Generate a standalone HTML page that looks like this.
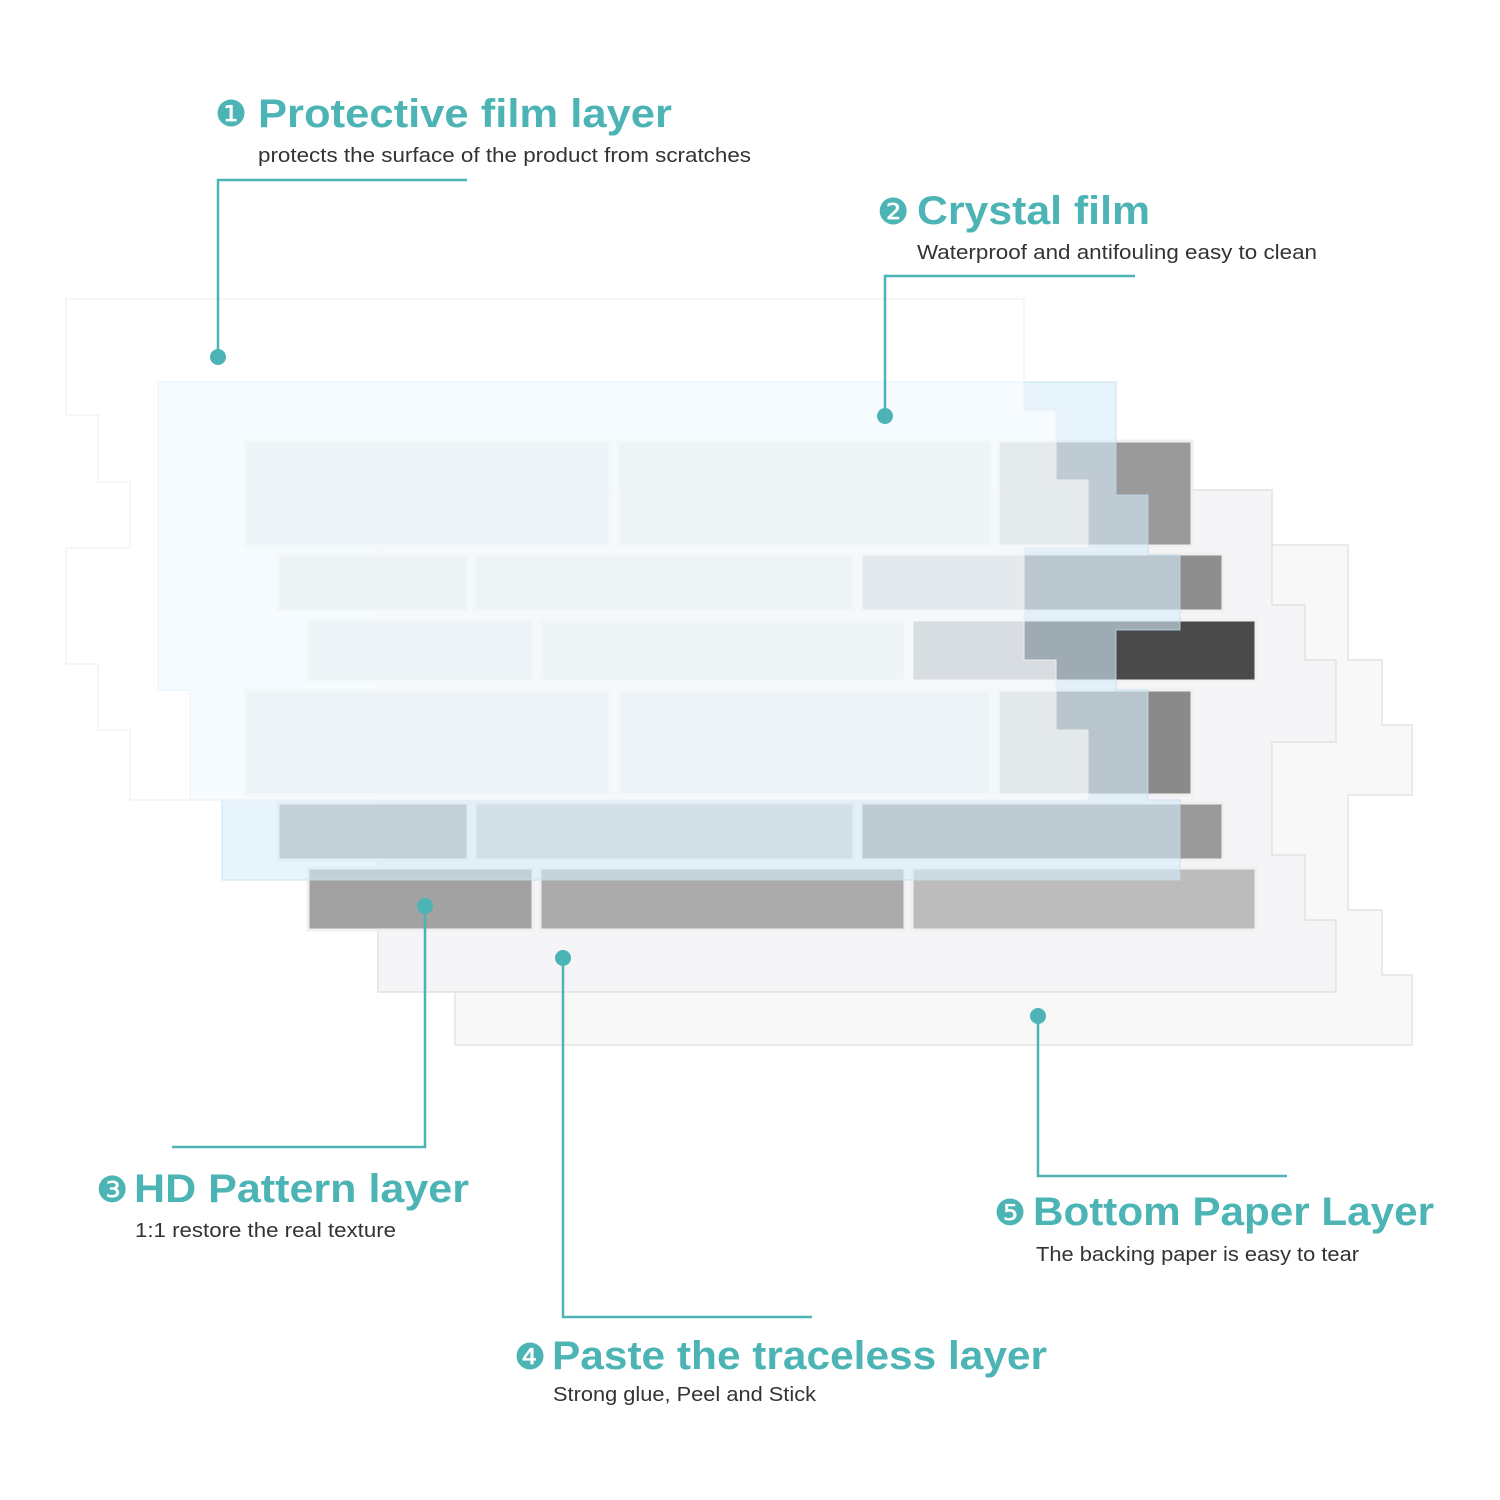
<!DOCTYPE html>
<html><head><meta charset="utf-8"><style>
html,body{margin:0;padding:0;background:#fff;}
svg{display:block;}
.h{font-family:"Liberation Sans","DejaVu Sans",sans-serif;font-weight:bold;fill:#4cb4b4;}
.s{font-family:"Liberation Sans","DejaVu Sans",sans-serif;fill:#333;font-size:20px;}
.n{font-family:"DejaVu Sans",sans-serif;fill:#4cb4b4;}
</style></head><body>
<svg width="1500" height="1500" viewBox="0 0 1500 1500" xmlns="http://www.w3.org/2000/svg">
<!-- Bottom paper -->
<polygon points="455,545 1348,545 1348,660 1382,660 1382,725 1412,725 1412,795 1348,795 1348,910 1382,910 1382,975 1412,975 1412,1045 455,1045" fill="#f8f8f8" stroke="#e4e4e4" stroke-width="1.5"/>
<!-- Paste layer -->
<polygon points="378,490 1272,490 1272,605 1305,605 1305,660 1336,660 1336,742 1272,742 1272,855 1305,855 1305,920 1336,920 1336,992 378,992" fill="#f5f4f6" stroke="#e2e2e2" stroke-width="1.5"/>
<!-- HD pattern base -->
<g stroke="#f0f0f0" stroke-width="3">
<rect x="245" y="441" width="365" height="105" fill="#d2d2d2"/>
<rect x="618" y="441" width="373" height="105" fill="#cfcfcf"/>
<rect x="998" y="441" width="194" height="105" fill="#9a9a9a"/>
<rect x="278" y="554" width="190" height="57" fill="#cacaca"/>
<rect x="475" y="554" width="379" height="57" fill="#d0d0d0"/>
<rect x="861" y="554" width="362" height="57" fill="#8e8e8e"/>
<rect x="308" y="620" width="225" height="61" fill="#cdcdcd"/>
<rect x="540" y="620" width="365" height="61" fill="#d6d6d6"/>
<rect x="912" y="620" width="344" height="61" fill="#4a4a4a"/>
<rect x="245" y="690" width="365" height="105" fill="#cdcdcd"/>
<rect x="618" y="690" width="373" height="105" fill="#d2d2d2"/>
<rect x="998" y="690" width="194" height="105" fill="#8a8a8a"/>
<rect x="278" y="803" width="190" height="57" fill="#a5a5a5"/>
<rect x="475" y="803" width="379" height="57" fill="#cacaca"/>
<rect x="861" y="803" width="362" height="57" fill="#9a9a9a"/>
<rect x="308" y="868" width="225" height="62" fill="#a2a2a2"/>
<rect x="540" y="868" width="365" height="62" fill="#ababab"/>
<rect x="912" y="868" width="344" height="62" fill="#bcbcbc"/>
</g>
<!-- Crystal film -->
<polygon points="158,382 1116,382 1116,495 1148,495 1148,555 1180,555 1180,630 1116,630 1116,690 1148,690 1148,800 1180,800 1180,880 222,880 222,800 190,800 190,690 158,690 158,382" fill="rgba(215,236,250,0.6)" stroke="rgba(190,220,240,0.8)" stroke-width="1"/>
<!-- Protective film -->
<polygon points="66,299 1024,299 1024,410 1056,410 1056,480 1088,480 1088,548 1024,548 1024,660 1056,660 1056,730 1088,730 1088,800 130,800 130,730 98,730 98,664 66,664 66,548 130,548 130,482 98,482 98,415 66,415" fill="rgba(255,255,255,0.6)" stroke="#eeeeee" stroke-width="1"/>
<!-- connectors -->
<g stroke="#4cb4b4" stroke-width="2.5" fill="none">
<polyline points="218,357 218,180 467,180"/>
<polyline points="885,416 885,276 1135,276"/>
<polyline points="425,906 425,1147 172,1147"/>
<polyline points="563,958 563,1317 812,1317"/>
<polyline points="1038,1016 1038,1176 1287,1176"/>
</g>
<g fill="#4cb4b4">
<circle cx="218" cy="357" r="8"/><circle cx="885" cy="416" r="8"/>
<circle cx="425" cy="906" r="8"/><circle cx="563" cy="958" r="8"/>
<circle cx="1038" cy="1016" r="8"/>
</g>
<!-- labels -->
<text class="n" x="215" y="126" font-size="36">❶</text>
<text class="h" x="258" y="127" font-size="40" textLength="414" lengthAdjust="spacingAndGlyphs">Protective film layer</text>
<text class="s" x="258" y="162" textLength="493" lengthAdjust="spacingAndGlyphs">protects the surface of the product from scratches</text>

<text class="n" x="877" y="224" font-size="36">❷</text>
<text class="h" x="917" y="224" font-size="40" textLength="233" lengthAdjust="spacingAndGlyphs">Crystal film</text>
<text class="s" x="917" y="259" textLength="400" lengthAdjust="spacingAndGlyphs">Waterproof and antifouling easy to clean</text>

<text class="n" x="96" y="1202" font-size="36">❸</text>
<text class="h" x="134" y="1202" font-size="40" textLength="335" lengthAdjust="spacingAndGlyphs">HD Pattern layer</text>
<text class="s" x="135" y="1237" textLength="261" lengthAdjust="spacingAndGlyphs">1:1 restore the real texture</text>

<text class="n" x="514" y="1369" font-size="36">❹</text>
<text class="h" x="552" y="1369" font-size="40" textLength="495" lengthAdjust="spacingAndGlyphs">Paste the traceless layer</text>
<text class="s" x="553" y="1401" textLength="263" lengthAdjust="spacingAndGlyphs">Strong glue, Peel and Stick</text>

<text class="n" x="994" y="1225" font-size="36">❺</text>
<text class="h" x="1033" y="1225" font-size="40" textLength="401" lengthAdjust="spacingAndGlyphs">Bottom Paper Layer</text>
<text class="s" x="1036" y="1261" textLength="323" lengthAdjust="spacingAndGlyphs">The backing paper is easy to tear</text>
</svg>
</body></html>
